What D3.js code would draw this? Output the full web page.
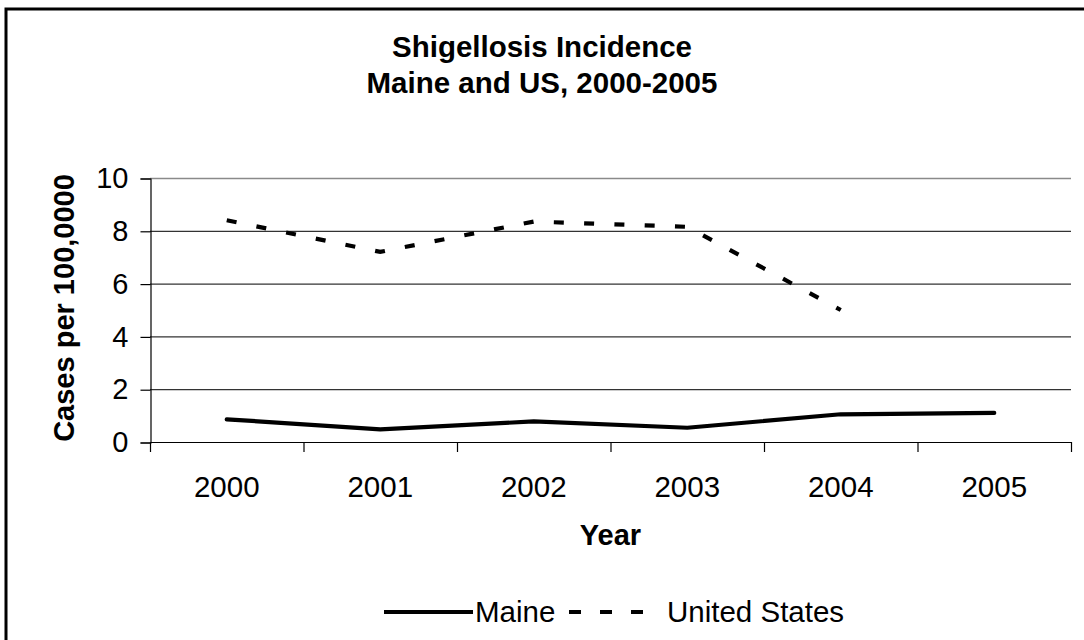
<!DOCTYPE html>
<html>
<head>
<meta charset="utf-8">
<script src="https://cdn.jsdelivr.net/npm/d3@7/dist/d3.min.js"></script>
<style>
  html, body { margin: 0; padding: 0; background: #fff; }
  svg { display: block; }
  text { font-family: "Liberation Sans", Arial, sans-serif; fill: #000; }
</style>
</head>
<body>
<svg id="chart" width="1084" height="640"></svg>
<script>
// Shigellosis incidence, cases per 100,000
const years = ["2000", "2001", "2002", "2003", "2004", "2005"];
const maine = [0.86, 0.48, 0.78, 0.54, 1.05, 1.1];
const unitedStates = [8.4, 7.2, 8.35, 8.15, 5.0, null];
const yTicks = [0, 2, 4, 6, 8, 10];
const titleLines = ["Shigellosis Incidence", "Maine and US, 2000-2005"];
const seriesNames = ["Maine", "United States"];

const svg = d3.select("#chart");
const W = 1084, H = 640;
const plot = { left: 150, right: 1071, top: 178, bottom: 442 };

svg.append("rect").attr("width", W).attr("height", H).attr("fill", "#fff");

// outer chart frame
svg.append("rect")
  .attr("x", 6).attr("y", 9)
  .attr("width", 1100).attr("height", 700)
  .attr("fill", "none").attr("stroke", "#000").attr("stroke-width", 3);

// title
svg.append("g").selectAll("text").data(titleLines).join("text")
  .attr("x", 542).attr("y", (d, i) => 57 + i * 36)
  .attr("text-anchor", "middle")
  .attr("font-size", 29.5).attr("font-weight", "bold")
  .text(d => d);

const x = d3.scaleBand().domain(years).range([plot.left, plot.right]).padding(0);
const y = d3.scaleLinear().domain([0, 10]).range([plot.bottom, plot.top]);
const cx = d => x(d) + x.bandwidth() / 2;

// horizontal gridlines
svg.append("g").selectAll("line").data(yTicks.filter(t => t > 0)).join("line")
  .attr("x1", plot.left).attr("x2", plot.right)
  .attr("y1", d => y(d) + 0.5).attr("y2", d => y(d) + 0.5)
  .attr("stroke", d => d === 10 ? "#8a8a8a" : "#333")
  .attr("stroke-width", d => d === 10 ? 1.6 : 1.2);

// y axis
const yAxis = d3.axisLeft(y).tickValues(yTicks).tickSize(10).tickPadding(12).tickFormat(d3.format("d"));
const gy = svg.append("g").attr("transform", `translate(${plot.left + 0.5},0.5)`).call(yAxis);
gy.select(".domain").attr("stroke", "#000").attr("stroke-width", 1.2);
gy.selectAll(".tick line").attr("stroke", "#000").attr("stroke-width", 1.2);
gy.selectAll(".tick text").attr("font-size", 29).attr("font-family", "Liberation Sans, Arial, sans-serif").attr("fill", "#000");

// x axis with ticks between categories
const boundaries = years.map(d => x(d)).concat([plot.right]);
svg.append("line")
  .attr("x1", plot.left).attr("x2", plot.right)
  .attr("y1", plot.bottom + 0.5).attr("y2", plot.bottom + 0.5)
  .attr("stroke", "#000").attr("stroke-width", 1.2);
svg.append("g").selectAll("line").data(boundaries).join("line")
  .attr("x1", d => d + 0.5).attr("x2", d => d + 0.5)
  .attr("y1", plot.bottom).attr("y2", plot.bottom + 10)
  .attr("stroke", "#000").attr("stroke-width", 1.2);
svg.append("g").selectAll("text").data(years).join("text")
  .attr("x", d => cx(d)).attr("y", 497)
  .attr("text-anchor", "middle").attr("font-size", 29.5)
  .text(d => d);

// axis titles
svg.append("text")
  .attr("x", (plot.left + plot.right) / 2).attr("y", 545)
  .attr("text-anchor", "middle").attr("font-size", 29).attr("font-weight", "bold")
  .text("Year");
svg.append("text")
  .attr("transform", `translate(74,${(plot.top + plot.bottom) / 2 - 2}) rotate(-90)`)
  .attr("text-anchor", "middle").attr("font-size", 29).attr("font-weight", "bold")
  .text("Cases per 100,0000");

// series lines
const line = d3.line()
  .defined(d => d.v !== null)
  .x(d => cx(d.year))
  .y(d => y(d.v));

const maineData = years.map((yr, i) => ({ year: yr, v: maine[i] }));
const usData = years.map((yr, i) => ({ year: yr, v: unitedStates[i] }));

svg.append("path").datum(maineData)
  .attr("d", line)
  .attr("fill", "none").attr("stroke", "#000")
  .attr("stroke-width", 4.2).attr("stroke-linejoin", "round").attr("stroke-linecap", "round");

svg.append("path").datum(usData)
  .attr("d", line)
  .attr("fill", "none").attr("stroke", "#000")
  .attr("stroke-width", 4.2).attr("stroke-dasharray", "10,20.3");

// legend
const legend = svg.append("g");
legend.append("line")
  .attr("x1", 384).attr("x2", 473).attr("y1", 612).attr("y2", 612)
  .attr("stroke", "#000").attr("stroke-width", 4.2);
legend.append("text").attr("x", 475).attr("y", 622).attr("font-size", 29.5).text(seriesNames[0]);
legend.append("line")
  .attr("x1", 569).attr("x2", 645).attr("y1", 612).attr("y2", 612)
  .attr("stroke", "#000").attr("stroke-width", 4.2).attr("stroke-dasharray", "12,19");
legend.append("text").attr("x", 667).attr("y", 622).attr("font-size", 29.5).text(seriesNames[1]);
</script>
</body>
</html>
